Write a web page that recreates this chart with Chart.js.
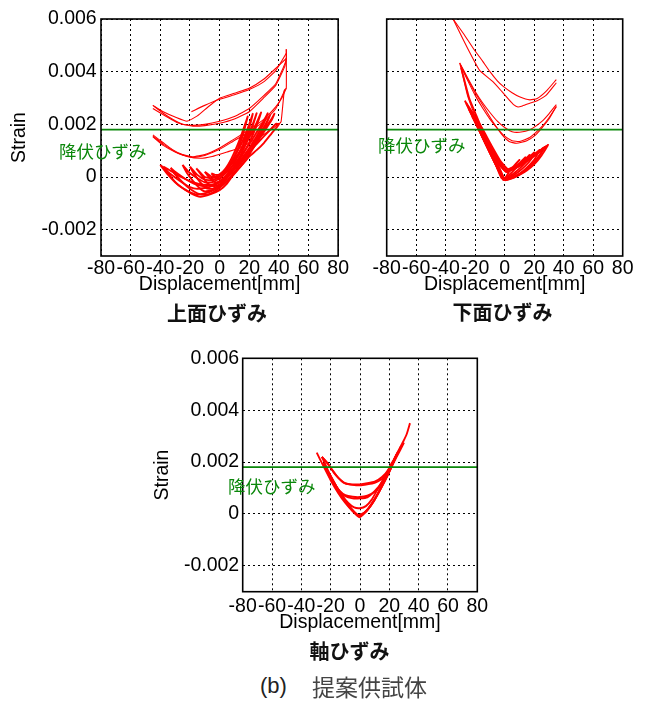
<!DOCTYPE html>
<html><head><meta charset="utf-8">
<script src="https://cdn.jsdelivr.net/npm/chart.js@4.4.1/dist/chart.umd.min.js"></script>
<style>
html,body{margin:0;padding:0;background:#fff;}
#wrap{position:relative;width:650px;height:702px;overflow:hidden;background:#fff;}
canvas{position:absolute;}
.cap{position:absolute;white-space:nowrap;color:#333;line-height:1;}
</style></head><body>
<div id="wrap">
<canvas id="c1" width="350" height="330" style="left:0;top:0;width:350px;height:330px"></canvas>
<canvas id="c2" width="300" height="330" style="left:350px;top:0;width:300px;height:330px"></canvas>
<canvas id="c3" width="360" height="330" style="left:140px;top:340px;width:360px;height:330px"></canvas>
<div class="cap" style="left:260px;top:675px;font-size:22px;font-family:'Liberation Sans',Arial,sans-serif;color:#222">(b)</div>
<div class="cap" style="left:312px;top:675px;font-size:23px;font-family:'Noto Sans CJK JP',sans-serif;color:#444">提案供試体</div>
</div>
<script>
// ---------- axis ticks & labels ----------
const xTicks = [-80,-60,-40,-20,0,20,40,60,80];
const xTickLabels = ['-80','-60','-40','-20','0','20','40','60','80'];
const yTicks = [-0.002,0,0.002,0.004,0.006];
const yTickLabels = ['-0.002','0','0.002','0.004','0.006'];
const yieldStrain = 0.0018;
const xTitle = 'Displacement[mm]';
const yTitle = 'Strain';
const yieldLabel = '降伏ひずみ';
const subTitles = ['上面ひずみ','下面ひずみ','軸ひずみ'];

// ---------- 上面ひずみ (top surface) : [displacement mm, strain] ----------
const topLoad1   = [[-19,2.48e-3],[-10,2.72e-3],[0,2.95e-3],[10,3.12e-3],[20,3.32e-3],[30,3.62e-3],[38,4.05e-3],[45,4.7e-3]];
const topUnload1 = [[45,4.85e-3],[45,4.45e-3],[38,3.55e-3],[30,3.1e-3],[20,2.6e-3],[10,2.3e-3],[0,2.12e-3],[-10,2.0e-3],[-18,1.96e-3],[-25,2.0e-3],[-32,2.2e-3],[-38,2.42e-3],[-45,2.72e-3]];
const topLoad2   = [[-45,2.72e-3],[-38,2.48e-3],[-30,2.28e-3],[-22,2.12e-3],[-15,2.32e-3],[-8,2.65e-3],[0,2.99e-3],[10,3.18e-3],[20,3.37e-3],[30,3.72e-3],[38,4.13e-3],[45,4.5e-3]];
const topUnload2 = [[45,4.5e-3],[44,4.2e-3],[38,3.49e-3],[30,3.02e-3],[20,2.48e-3],[10,2.2e-3],[0,2.04e-3],[-10,1.95e-3],[-18,1.93e-3],[-28,2.05e-3],[-36,2.3e-3],[-45,2.6e-3]];
const topJump    = [[40,2.0e-3],[41.5,2.1e-3],[43.7,3.3e-3],[45,3.37e-3],[45,4.85e-3]];
const midUnload1 = [[45,3.37e-3],[42,3.0e-3],[38,2.67e-3],[30,2.2e-3],[20,1.8e-3],[9,1.41e-3],[0,1.1e-3],[-10,0.85e-3],[-18,0.77e-3],[-25,0.85e-3],[-32,1.05e-3],[-38,1.3e-3],[-45,1.6e-3]];
const midLoad1   = [[-45,1.53e-3],[-38,1.2e-3],[-30,0.95e-3],[-22,0.78e-3],[-13,0.71e-3],[-5,0.78e-3],[5,0.95e-3],[13,1.09e-3],[20,1.3e-3],[30,1.62e-3],[36,1.85e-3],[40.3,2.04e-3]];
const midUnload2 = [[44,3.3e-3],[38,2.6e-3],[30,2.12e-3],[20,1.72e-3],[9,1.35e-3],[0,1.05e-3],[-10,0.82e-3],[-18,0.74e-3],[-28,0.9e-3],[-38,1.25e-3],[-45,1.55e-3]];
const loopA = [[-5.6,0.14e-3],[-3,-0.02e-3],[0,-0.08e-3],[5,0.25e-3],[10,0.75e-3],[15,1.45e-3],[19,2.3e-3],[16,1.8e-3],[12,1.2e-3],[8,0.7e-3],[4,0.32e-3],[0,0.1e-3],[-3,0.08e-3],[-5.6,0.14e-3]];
const loopB = [[-10,0.2e-3],[-7,-0.02e-3],[-3,-0.2e-3],[0,-0.2e-3],[5,0.1e-3],[10,0.55e-3],[15,1.1e-3],[20,1.85e-3],[22.4,2.4e-3],[20,2.0e-3],[15,1.3e-3],[10,0.78e-3],[5,0.35e-3],[0,0.05e-3],[-5,0.0],[-10,0.2e-3]];
const loopC = [[-15.7,0.33e-3],[-12,0.05e-3],[-8,-0.25e-3],[-4,-0.35e-3],[0,-0.28e-3],[5,0.02e-3],[10,0.42e-3],[15,0.92e-3],[20,1.55e-3],[25,2.42e-3],[22,1.95e-3],[18,1.45e-3],[14,1.02e-3],[10,0.68e-3],[5,0.3e-3],[0,0.05e-3],[-5,-0.05e-3],[-10,0.0],[-15.7,0.33e-3]];
const loopD = [[-20,0.39e-3],[-17,0.1e-3],[-13,-0.2e-3],[-9,-0.42e-3],[-5,-0.45e-3],[0,-0.3e-3],[5,0.0],[10,0.38e-3],[15,0.8e-3],[20,1.3e-3],[25,1.95e-3],[28,2.45e-3],[25,2.05e-3],[20,1.5e-3],[15,1.02e-3],[10,0.62e-3],[5,0.28e-3],[0,0.02e-3],[-5,-0.12e-3],[-10,-0.1e-3],[-15,0.08e-3],[-20,0.39e-3]];
const loopE = [[-25,0.46e-3],[-22,0.15e-3],[-18,-0.15e-3],[-14,-0.4e-3],[-10,-0.55e-3],[-5,-0.5e-3],[0,-0.35e-3],[5,-0.05e-3],[10,0.3e-3],[15,0.7e-3],[20,1.1e-3],[25,1.55e-3],[30,2.05e-3],[32.5,2.42e-3],[30,2.15e-3],[25,1.7e-3],[20,1.25e-3],[15,0.85e-3],[10,0.5e-3],[5,0.2e-3],[0,-0.05e-3],[-5,-0.2e-3],[-10,-0.2e-3],[-15,-0.05e-3],[-20,0.15e-3],[-25,0.46e-3]];
const loopF = [[-33,0.35e-3],[-30,0.1e-3],[-25,-0.2e-3],[-20,-0.45e-3],[-15,-0.62e-3],[-10,-0.68e-3],[-5,-0.6e-3],[0,-0.42e-3],[5,-0.15e-3],[10,0.2e-3],[15,0.55e-3],[20,0.92e-3],[25,1.3e-3],[30,1.72e-3],[35,2.15e-3],[37,2.4e-3],[35,2.2e-3],[30,1.8e-3],[25,1.4e-3],[20,1.05e-3],[15,0.7e-3],[10,0.38e-3],[5,0.08e-3],[0,-0.15e-3],[-5,-0.3e-3],[-10,-0.35e-3],[-15,-0.3e-3],[-20,-0.18e-3],[-25,0.0],[-30,0.2e-3],[-33,0.35e-3]];
const loopG = [[-40,0.46e-3],[-35,0.1e-3],[-30,-0.2e-3],[-25,-0.42e-3],[-20,-0.6e-3],[-13,-0.75e-3],[-6,-0.65e-3],[0,-0.5e-3],[5,-0.25e-3],[10,0.15e-3],[15,0.45e-3],[20,0.78e-3],[25,1.02e-3],[30,1.3e-3],[35,1.65e-3],[40,2.0e-3],[38,2.02e-3],[35,1.85e-3],[30,1.55e-3],[25,1.25e-3],[20,0.95e-3],[15,0.6e-3],[10,0.3e-3],[5,0.0],[0,-0.2e-3],[-5,-0.35e-3],[-10,-0.42e-3],[-15,-0.45e-3],[-20,-0.38e-3],[-25,-0.22e-3],[-30,-0.02e-3],[-35,0.2e-3],[-40,0.46e-3]];
const loopH = [[-38,0.4e-3],[-33,0.02e-3],[-28,-0.3e-3],[-22,-0.52e-3],[-16,-0.66e-3],[-10,-0.62e-3],[-4,-0.5e-3],[2,-0.3e-3],[8,0.0],[14,0.38e-3],[20,0.85e-3],[26,1.4e-3],[31,1.95e-3],[34,2.35e-3],[31,2.0e-3],[26,1.55e-3],[20,1.05e-3],[14,0.58e-3],[8,0.18e-3],[2,-0.12e-3],[-4,-0.28e-3],[-10,-0.3e-3],[-18,-0.2e-3],[-26,0.0],[-32,0.2e-3],[-38,0.4e-3]];

// ---------- 下面ひずみ (bottom surface) ----------
const lowTop1 = [[-35,6.0e-3],[-28,5.45e-3],[-21.5,4.9e-3],[-15,4.4e-3],[-10,4.0e-3],[-5,3.65e-3],[-1,3.44e-3],[5,3.2e-3],[10,3.05e-3],[17,2.93e-3],[22,2.98e-3],[28,3.25e-3],[35,3.7e-3]];
const lowTop2 = [[35,3.58e-3],[28,3.1e-3],[22,2.9e-3],[17,2.8e-3],[12,2.7e-3],[9,2.66e-3],[6,2.75e-3],[3,2.93e-3],[-2,3.25e-3],[-8,3.62e-3],[-17,4.05e-3],[-22,4.55e-3],[-28,5.2e-3],[-35,6.0e-3]];
const lowMid1 = [[-30.5,4.33e-3],[-25,3.75e-3],[-20,3.25e-3],[-15,2.82e-3],[-10,2.45e-3],[-5,2.12e-3],[0,1.88e-3],[5,1.72e-3],[10,1.7e-3],[17,1.79e-3],[25,2.1e-3],[30,2.4e-3],[35,2.75e-3]];
const lowMid2 = [[35,2.68e-3],[30,2.2e-3],[25,1.85e-3],[20,1.55e-3],[15,1.38e-3],[8,1.28e-3],[3,1.35e-3],[-2,1.62e-3],[-8,2.1e-3],[-14,2.65e-3],[-20,3.2e-3],[-25,3.7e-3],[-30,4.25e-3]];
const lowMid3 = [[-30,4.25e-3],[-25,3.65e-3],[-20,3.1e-3],[-15,2.62e-3],[-10,2.2e-3],[-5,1.85e-3],[0,1.55e-3],[5,1.38e-3],[10,1.35e-3],[17,1.5e-3],[25,1.9e-3],[30,2.25e-3],[35,2.68e-3]];
const lowStart = [[-30.5,4.33e-3],[-28,3.75e-3],[-25,3.05e-3],[-20,2.3e-3],[-15,1.62e-3],[-10,1.0e-3],[-5,0.42e-3],[-1,-0.08e-3]];
const lowStart2 = [[-29.5,4.15e-3],[-27,3.6e-3],[-24,2.98e-3],[-19,2.3e-3],[-14,1.62e-3],[-9,1.0e-3],[-4,0.4e-3],[0,-0.1e-3]];
const vLoop1 = [[-8,0.75e-3],[-5,0.38e-3],[-2,0.03e-3],[0,-0.06e-3],[3,0.2e-3],[6,0.4e-3],[10,0.65e-3],[7,0.45e-3],[4,0.28e-3],[1,0.2e-3],[-3,0.42e-3],[-8,0.75e-3]];
const vLoop2 = [[-12,1.2e-3],[-8,0.72e-3],[-4,0.26e-3],[-1,-0.07e-3],[3,0.08e-3],[7,0.3e-3],[11,0.55e-3],[14,0.75e-3],[10,0.52e-3],[6,0.35e-3],[2,0.22e-3],[-2,0.38e-3],[-7,0.78e-3],[-12,1.2e-3]];
const vLoop3 = [[-16,1.65e-3],[-12,1.18e-3],[-8,0.7e-3],[-4,0.25e-3],[-1,-0.08e-3],[4,0.05e-3],[8,0.22e-3],[12,0.42e-3],[15,0.62e-3],[17,0.84e-3],[14,0.68e-3],[10,0.5e-3],[5,0.3e-3],[1,0.2e-3],[-4,0.52e-3],[-10,1.05e-3],[-16,1.65e-3]];
const vLoop4 = [[-19,2.0e-3],[-15,1.52e-3],[-10,0.95e-3],[-5,0.38e-3],[-1,-0.1e-3],[4,0.0],[9,0.18e-3],[14,0.42e-3],[18,0.68e-3],[20,0.93e-3],[17,0.78e-3],[12,0.55e-3],[7,0.35e-3],[2,0.22e-3],[-3,0.45e-3],[-9,0.98e-3],[-14,1.45e-3],[-19,2.0e-3]];
const vLoop5 = [[-22,2.3e-3],[-17,1.75e-3],[-12,1.18e-3],[-7,0.6e-3],[-2,0.02e-3],[0,-0.1e-3],[5,-0.02e-3],[10,0.12e-3],[15,0.35e-3],[20,0.65e-3],[23.7,1.03e-3],[20,0.86e-3],[15,0.62e-3],[10,0.42e-3],[5,0.28e-3],[1,0.22e-3],[-5,0.65e-3],[-11,1.2e-3],[-16,1.7e-3],[-22,2.3e-3]];
const vLoop6 = [[-24.5,2.6e-3],[-20,2.08e-3],[-15,1.5e-3],[-10,0.92e-3],[-5,0.36e-3],[-1,-0.1e-3],[5,-0.04e-3],[10,0.1e-3],[15,0.3e-3],[20,0.55e-3],[24,0.85e-3],[26,1.1e-3],[23,0.95e-3],[18,0.72e-3],[12,0.5e-3],[6,0.32e-3],[1,0.25e-3],[-5,0.72e-3],[-12,1.4e-3],[-18,1.98e-3],[-24.5,2.6e-3]];
const vLoop7 = [[-27,2.9e-3],[-22,2.32e-3],[-17,1.75e-3],[-12,1.15e-3],[-7,0.58e-3],[-2,0.0],[0,-0.12e-3],[5,-0.05e-3],[10,0.08e-3],[15,0.25e-3],[20,0.48e-3],[25,0.82e-3],[29.4,1.22e-3],[25,1.02e-3],[20,0.8e-3],[15,0.6e-3],[10,0.42e-3],[5,0.28e-3],[1,0.2e-3],[-4,0.55e-3],[-10,1.15e-3],[-16,1.8e-3],[-22,2.4e-3],[-27,2.9e-3]];
const vLoop8 = [[-26,2.8e-3],[-21,2.22e-3],[-16,1.62e-3],[-11,1.02e-3],[-6,0.45e-3],[-2,-0.05e-3],[2,-0.08e-3],[8,0.05e-3],[14,0.25e-3],[19,0.5e-3],[23,0.78e-3],[27.5,1.15e-3],[24,1.0e-3],[18,0.75e-3],[12,0.55e-3],[6,0.38e-3],[2,0.3e-3],[-3,0.62e-3],[-9,1.2e-3],[-15,1.82e-3],[-21,2.38e-3],[-26,2.8e-3]];

// ---------- 軸ひずみ (axial) ----------
const axV  = [[-29.5,2.36e-3],[-25,1.85e-3],[-20,1.3e-3],[-15,0.82e-3],[-10,0.42e-3],[-5,0.1e-3],[-0.5,-0.13e-3],[5,0.15e-3],[10,0.55e-3],[15,1.08e-3],[20,1.72e-3],[25,2.3e-3],[29.5,2.79e-3],[32,3.1e-3],[34.1,3.5e-3]];
const axU1 = [[30,2.75e-3],[25,2.2e-3],[20,1.68e-3],[15,1.35e-3],[10,1.2e-3],[5,1.14e-3],[0,1.1e-3],[-5,1.12e-3],[-10,1.18e-3],[-14,1.35e-3],[-18,1.6e-3],[-22,1.95e-3],[-26,2.2e-3]];
const axU1b = [[28,2.6e-3],[24,2.15e-3],[20,1.75e-3],[15,1.42e-3],[10,1.24e-3],[5,1.18e-3],[0,1.14e-3],[-6,1.14e-3],[-11,1.2e-3],[-15,1.4e-3],[-19,1.7e-3],[-23,2.0e-3],[-26,2.2e-3]];
const axU2 = [[26,2.4e-3],[22,1.95e-3],[18,1.5e-3],[14,1.1e-3],[10,0.85e-3],[5,0.7e-3],[0,0.65e-3],[-5,0.66e-3],[-10,0.72e-3],[-14,0.9e-3],[-18,1.2e-3],[-22,1.6e-3],[-25,1.95e-3]];
const axU2b = [[25,2.3e-3],[20,1.75e-3],[15,1.22e-3],[10,0.88e-3],[5,0.64e-3],[0,0.6e-3],[-5,0.6e-3],[-10,0.68e-3],[-15,0.95e-3],[-20,1.35e-3],[-24,1.8e-3]];
const axU3 = [[22,2.0e-3],[17,1.45e-3],[12,0.95e-3],[8,0.55e-3],[4,0.3e-3],[0,0.22e-3],[-4,0.25e-3],[-8,0.42e-3],[-12,0.7e-3],[-16,1.05e-3],[-20,1.45e-3],[-24,1.85e-3]];
const axV2 = [[-26,2.2e-3],[-22,1.7e-3],[-18,1.25e-3],[-14,0.85e-3],[-10,0.5e-3],[-6,0.2e-3],[-2,-0.02e-3],[0,-0.08e-3],[4,0.1e-3],[8,0.4e-3],[12,0.78e-3],[16,1.2e-3],[20,1.65e-3],[24,2.15e-3],[28,2.6e-3]];
const axV3 = [[-24,1.85e-3],[-20,1.45e-3],[-16,1.05e-3],[-12,0.68e-3],[-8,0.35e-3],[-4,0.08e-3],[-1,-0.05e-3],[3,0.05e-3],[7,0.3e-3],[11,0.65e-3],[15,1.05e-3],[19,1.5e-3],[23,2.0e-3],[26,2.4e-3]];
const axV4 = [[-25,1.95e-3],[-21,1.5e-3],[-17,1.1e-3],[-13,0.72e-3],[-9,0.38e-3],[-5,0.12e-3],[-1,-0.08e-3],[4,0.08e-3],[9,0.45e-3],[13,0.85e-3],[17,1.3e-3],[21,1.75e-3],[25,2.3e-3]];

const FONT = '"Liberation Sans", Arial, Helvetica, sans-serif';
const JFONT = '"Noto Sans CJK JP", "Noto Sans CJK SC", sans-serif';

const decor = {
  id: 'decor',
  afterDraw(chart, args, o) {
    const {ctx, chartArea: a} = chart;
    ctx.save();
    ctx.setLineDash([]);
    ctx.strokeStyle = '#000';
    ctx.lineWidth = 1.6;
    ctx.strokeRect(a.left, a.top, a.right - a.left, a.bottom - a.top);
    ctx.fillStyle = '#0a870a';
    ctx.font = '17.5px ' + JFONT;
    ctx.textAlign = 'left';
    ctx.textBaseline = 'middle';
    ctx.fillText(yieldLabel, o.lx, o.ly);
    ctx.fillStyle = '#111';
    ctx.font = 'bold 20px ' + JFONT;
    ctx.textAlign = 'center';
    ctx.fillText(o.sub, o.sx, o.sy);
    ctx.restore();
  }
};

function makeChart(id, groups, g) {
  const datasets = [{
    data: [{x: xTicks[0], y: yieldStrain}, {x: xTicks[xTicks.length - 1], y: yieldStrain}],
    borderColor: '#0a870a', borderWidth: 1.8, pointRadius: 0, showLine: true, order: 0
  }];
  groups.forEach(gr => gr.curves.forEach(c => datasets.push({
    data: c.map(p => ({x: p[0], y: p[1]})),
    borderColor: '#ff0000', borderWidth: gr.width, pointRadius: 0, showLine: true,
    tension: 0.15, order: 1
  })));
  const gridOpts = {color: '#000', lineWidth: 1, drawTicks: false};
  const borderOpts = {display: false, dash: [2, 3]};
  return new Chart(document.getElementById(id), {
    type: 'scatter',
    data: {datasets},
    options: {
      responsive: false, animation: false, events: [],
      layout: {padding: {left: 0, top: g.top, right: g.right, bottom: g.bottom}},
      plugins: {legend: {display: false}, tooltip: {enabled: false},
        decor: {lx: g.lx, ly: g.ly, sub: g.sub, sx: g.sx, sy: g.sy}},
      scales: {
        x: {
          type: 'linear', min: -80, max: 80,
          afterBuildTicks: s => { s.ticks = xTicks.map(v => ({value: v})); },
          afterFit: s => { s.height = g.xh; },
          grid: gridOpts, border: borderOpts,
          ticks: {autoSkip: false, maxRotation: 0, minRotation: 0, padding: g.xpad, color: '#000',
            font: {family: FONT, size: 19.5}, callback: v => xTickLabels[xTicks.indexOf(v)]},
          title: {display: true, text: xTitle, color: '#000', font: {family: FONT, size: 19.5},
            padding: {top: 0, bottom: 0}}
        },
        y: {
          type: 'linear', min: -0.003, max: 0.006,
          afterBuildTicks: s => { s.ticks = yTicks.map(v => ({value: v})); },
          afterFit: s => { s.width = g.yw; },
          grid: gridOpts, border: borderOpts,
          ticks: {display: g.showY, padding: g.ypad, color: '#000',
            font: {family: FONT, size: 19.5}, callback: v => yTickLabels[yTicks.indexOf(v)]},
          title: {display: g.showY, text: yTitle, color: '#000', font: {family: FONT, size: 19.5},
            padding: {top: g.ytp, bottom: 0}}
        }
      }
    },
    plugins: [decor]
  });
}

makeChart('c1', [
  {curves: [topLoad1, topUnload1, topLoad2, topUnload2, topJump, midUnload1, midLoad1, midUnload2], width: 1.1},
  {curves: [loopA, loopB, loopC, loopD, loopE, loopF, loopG, loopH], width: 1.9}
], {top: 19, right: 11, bottom: 33.3, xh: 40.7, yw: 101, xpad: 1, ypad: 4.3, ytp: 8.3, showY: true,
    lx: 59, ly: 151, sub: subTitles[0], sx: 217, sy: 313});

makeChart('c2', [
  {curves: [lowTop1, lowTop2, lowMid1, lowMid2, lowMid3, lowStart], width: 1.1},
  {curves: [lowStart2, vLoop1, vLoop2, vLoop3, vLoop4, vLoop5, vLoop6, vLoop7, vLoop8], width: 1.9}
], {top: 19, right: 27.3, bottom: 33.3, xh: 40.7, yw: 36.7, xpad: 1, ypad: 4, ytp: 0, showY: false,
    lx: 28, ly: 145, sub: subTitles[1], sx: 152.5, sy: 312.5});

makeChart('c3', [
  {curves: [axV, axU1, axU1b, axU2, axU2b, axU3, axV2, axV3, axV4], width: 1.9}
], {top: 18.3, right: 22.7, bottom: 35.8, xh: 42.5, yw: 102.7, xpad: 3.3, ypad: 3.5, ytp: 11.3, showY: true,
    lx: 88, ly: 146.5, sub: subTitles[2], sx: 209.5, sy: 311.7});
</script>
</body></html>
